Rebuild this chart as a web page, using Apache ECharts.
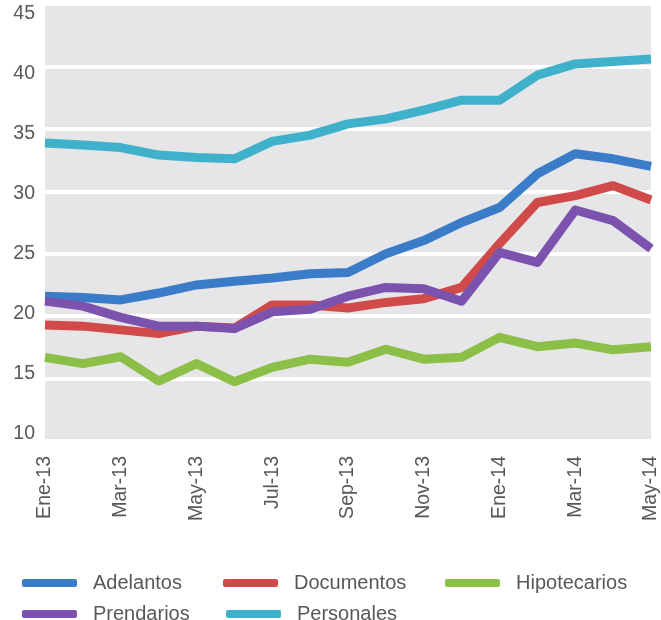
<!DOCTYPE html>
<html>
<head>
<meta charset="utf-8">
<script src="https://cdn.jsdelivr.net/npm/echarts@6/dist/echarts.min.js"></script>
<style>
  html, body { margin: 0; padding: 0; background: #ffffff; }
  #chart { width: 661px; height: 620px; }
</style>
</head>
<body>
<div id="chart"></div>
<script>
// Monthly rates by credit line, Jan 2013 - May 2014
const months = ['Ene-13', 'Feb-13', 'Mar-13', 'Abr-13', 'May-13', 'Jun-13', 'Jul-13', 'Ago-13', 'Sep-13',
  'Oct-13', 'Nov-13', 'Dic-13', 'Ene-14', 'Feb-14', 'Mar-14', 'Abr-14', 'May-14'];

const adelantos    = [21.6, 21.5, 21.3, 21.85, 22.5, 22.8, 23.05, 23.4, 23.5, 25.0, 26.05, 27.5, 28.7, 31.4, 33.0, 32.6, 32.0];
const documentos   = [19.3, 19.2, 18.9, 18.6, 19.2, 19.05, 20.9, 20.9, 20.65, 21.1, 21.4, 22.3, 25.8, 29.1, 29.65, 30.45, 29.3];
const hipotecarios = [16.7, 16.2, 16.75, 14.8, 16.2, 14.75, 15.9, 16.55, 16.3, 17.35, 16.55, 16.7, 18.3, 17.55, 17.85, 17.3, 17.55];
const prendarios   = [21.2, 20.8, 19.9, 19.2, 19.2, 19.0, 20.35, 20.55, 21.6, 22.3, 22.2, 21.2, 25.1, 24.3, 28.5, 27.65, 25.4];
const personales   = [33.86, 33.7, 33.5, 32.9, 32.7, 32.6, 34.0, 34.5, 35.4, 35.8, 36.5, 37.3, 37.3, 39.3, 40.2, 40.4, 40.6];

const yTicks = { min: 10, max: 45, step: 5 };

const seriesDefs = [
  { name: 'Adelantos',    data: adelantos,    color: '#3b7cc8' },
  { name: 'Documentos',   data: documentos,   color: '#d04a4a' },
  { name: 'Hipotecarios', data: hipotecarios, color: '#8cbf47' },
  { name: 'Prendarios',   data: prendarios,   color: '#7b53ae' },
  { name: 'Personales',   data: personales,   color: '#3fb1ca' }
];

// legend slot for each series: [left, top]
const legendSlots = {
  Adelantos:    [17, 568],
  Documentos:   [218, 568],
  Hipotecarios: [440, 568],
  Prendarios:   [17, 599],
  Personales:   [221, 599]
};

const FONT = '"Liberation Sans", Arial, sans-serif';
const TEXT = '#585858';

const chart = echarts.init(document.getElementById('chart'), null, { renderer: 'canvas' });

const legends = seriesDefs.map(s => ({
  left: legendSlots[s.name][0],
  top: legendSlots[s.name][1],
  data: [s.name],
  icon: 'roundRect',
  itemWidth: 55,
  itemHeight: 8,
  textStyle: { fontFamily: FONT, fontSize: 20, color: TEXT, lineHeight: 20, padding: [0, 0, 0, 11] }
}));

chart.setOption({
  backgroundColor: '#ffffff',
  animation: false,
  grid: [
    // plotting area
    { left: 45, right: 4, top: 4, bottom: 179, show: true, backgroundColor: '#e6e6e8', borderWidth: 0 },
    // value labels column
    { left: 45, right: 4, top: 14, bottom: 186, show: false }
  ],
  legend: legends,
  xAxis: [
    {
      type: 'category',
      gridIndex: 0,
      data: months,
      boundaryGap: false,
      axisLine: { show: false },
      axisTick: { show: false },
      splitLine: { show: false },
      axisLabel: {
        interval: 1,
        rotate: 90,
        margin: 15,
        fontFamily: FONT,
        fontSize: 19.5,
        color: TEXT
      }
    },
    { type: 'category', gridIndex: 1, data: months, show: false }
  ],
  yAxis: [
    {
      type: 'value',
      gridIndex: 0,
      min: yTicks.min,
      max: yTicks.max,
      interval: yTicks.step,
      axisLine: { show: false },
      axisTick: { show: false },
      axisLabel: { show: false },
      splitLine: { show: true, lineStyle: { color: '#ffffff', width: 4 } }
    },
    {
      type: 'value',
      gridIndex: 1,
      min: yTicks.min,
      max: yTicks.max,
      interval: yTicks.step,
      axisLine: { show: false },
      axisTick: { show: false },
      splitLine: { show: false },
      axisLabel: { margin: 10, fontFamily: FONT, fontSize: 19.5, color: TEXT }
    }
  ],
  series: seriesDefs.map(s => ({
    name: s.name,
    type: 'line',
    xAxisIndex: 0,
    yAxisIndex: 0,
    data: s.data,
    showSymbol: false,
    symbol: 'none',
    color: s.color,
    lineStyle: { color: s.color, width: 9, join: 'round', cap: 'butt' },
    itemStyle: { color: s.color }
  }))
});
</script>
</body>
</html>
